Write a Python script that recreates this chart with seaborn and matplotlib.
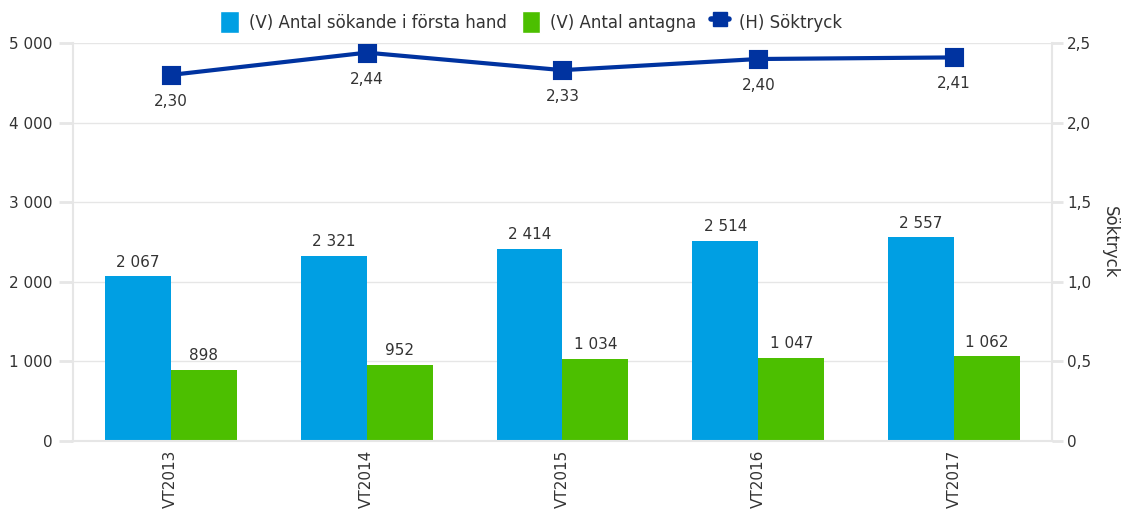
import pandas as pd
import seaborn as sns
from matplotlib import pyplot as plt
from matplotlib.patches import Patch
from matplotlib.lines import Line2D

terms = ["VT2013", "VT2014", "VT2015", "VT2016", "VT2017"]
sokande = [2067, 2321, 2414, 2514, 2557]
antagna = [898, 952, 1034, 1047, 1062]
soktryck = [2.30, 2.44, 2.33, 2.40, 2.41]

lbl_sok = "(V) Antal sökande i första hand"
lbl_ant = "(V) Antal antagna"
lbl_tryck = "(H) Söktryck"

c_blue = "#009fe3"
c_green = "#4cbf00"
c_navy = "#0033a0"
grid_c = "#e6e6e6"
txt_c = "#333333"


def sv_int(v):
    return f"{v:,}".replace(",", " ")


def sv_dec(v, n=2):
    return f"{v:.{n}f}".replace(".", ",")


sns.set_style("white")
plt.rcParams["font.family"] = ["DejaVu Sans"]
plt.rcParams["font.size"] = 11

bars = pd.DataFrame({
    "term": terms * 2,
    "value": sokande + antagna,
    "serie": [lbl_sok] * 5 + [lbl_ant] * 5,
})
line = pd.DataFrame({"term": terms, "tryck": soktryck})

fig = plt.figure(figsize=(11.26, 5.13), dpi=100)
ax = fig.add_axes([0.0648, 0.1404, 0.8695, 0.7756])

sns.barplot(data=bars, x="term", y="value", hue="serie", order=terms,
            palette=[c_blue, c_green], width=0.674, saturation=1,
            linewidth=0, ax=ax, legend=False, zorder=2)

for cont in ax.containers:
    ax.bar_label(cont, labels=[sv_int(int(b.get_height())) for b in cont],
                 padding=5, color=txt_c, fontsize=11)

ax.set_ylim(0, 5000)
ax.set_yticks(range(0, 5001, 1000))
ax.set_yticklabels([sv_int(v) for v in range(0, 5001, 1000)], color=txt_c)
ax.yaxis.grid(True, color=grid_c, linewidth=1, zorder=0)
ax.set_axisbelow(True)
ax.set_xlabel("")
ax.set_ylabel("")
ax.tick_params(axis="x", length=0, labelrotation=90, colors=txt_c, pad=6)
ax.tick_params(axis="y", length=10, color=grid_c, width=2, pad=5)
for s in ["top", "right"]:
    ax.spines[s].set_visible(False)
for s in ["left", "bottom"]:
    ax.spines[s].set_color(grid_c)
    ax.spines[s].set_linewidth(1.5)

ax2 = ax.twinx()
sns.pointplot(data=line, x="term", y="tryck", order=terms, ax=ax2,
              color=c_navy, markers="s", markersize=11, linewidth=3,
              errorbar=None)
for i, v in enumerate(soktryck):
    ax2.annotate(sv_dec(v), (i, v), xytext=(0, -19), textcoords="offset points",
                 ha="center", va="center", color=txt_c, fontsize=11)

ax2.set_ylim(0, 2.5)
ax2.set_yticks([0, 0.5, 1.0, 1.5, 2.0, 2.5])
ax2.set_yticklabels(["0"] + [sv_dec(v, 1) for v in [0.5, 1.0, 1.5, 2.0, 2.5]], color=txt_c)
ax2.set_ylabel("Söktryck", rotation=270, labelpad=20, color=txt_c, fontsize=12)
ax2.set_xlabel("")
ax2.tick_params(axis="y", length=8, color=grid_c, width=2, pad=3)
for s in ["top", "left", "bottom"]:
    ax2.spines[s].set_visible(False)
ax2.spines["right"].set_color(grid_c)
ax2.spines["right"].set_linewidth(1.5)
ax.set_xlim(-0.5, len(terms) - 0.5)
ax2.set_xlim(-0.5, len(terms) - 0.5)

handles = [
    Patch(facecolor=c_blue, label=lbl_sok),
    Patch(facecolor=c_green, label=lbl_ant),
    Line2D([], [], color=c_navy, marker="s", markersize=10, linewidth=4, label=lbl_tryck),
]
fig.legend(handles=handles, loc="center", bbox_to_anchor=(0.472, 0.957), ncol=3,
           frameon=False, handlelength=1.1, handleheight=1.6, handletextpad=0.6,
           columnspacing=0.9, fontsize=12, labelcolor=txt_c)

fig.savefig("out.png", dpi=100)
